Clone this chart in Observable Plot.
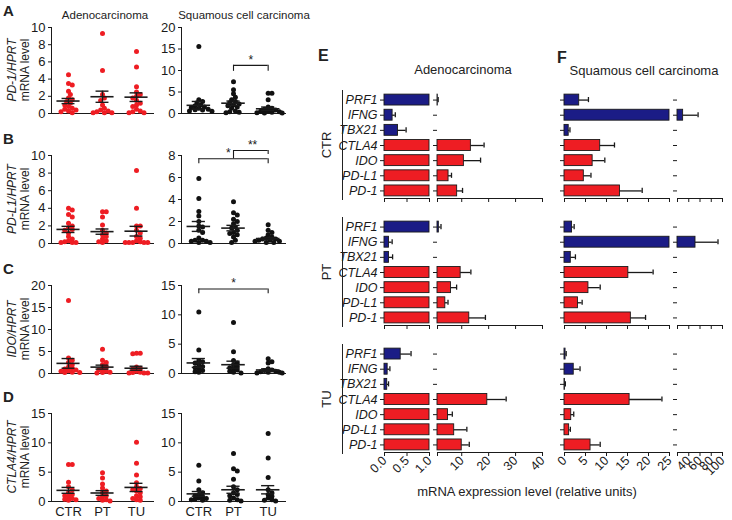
<!DOCTYPE html>
<html><head><meta charset="utf-8">
<script src="https://cdn.jsdelivr.net/npm/d3@7"></script>
<script src="https://cdn.jsdelivr.net/npm/@observablehq/plot@0.6"></script>
<style>
body{margin:0;background:#fff;}
#fig{position:relative;width:732px;height:520px;overflow:hidden;font-family:"Liberation Sans",Arial,Helvetica,sans-serif;color:#222;}
.lbl{position:absolute;white-space:nowrap;line-height:1.1;text-align:center;}
.vline{position:absolute;width:1px;background:#222;}
</style></head><body><div id="fig"></div>
<script>
// ---------------- DATA ----------------
const categories = ["CTR", "PT", "TU"];

// A: PD-1/HPRT
const pd1AdenoCTR = [4.5, 3.5, 3.3, 2.6, 2.2, 1.8, 1.6, 1.4, 1.2, 1.0, 0.8, 0.6, 0.5, 0.4, 0.3, 0.2, 0.1];
const pd1AdenoPT  = [9.3, 5.0, 2.2, 1.8, 1.5, 1.0, 0.6, 0.4, 0.3, 0.2, 0.1, 0.1, 0.1];
const pd1AdenoTU  = [7.2, 5.4, 3.1, 2.5, 2.2, 2.0, 1.8, 1.5, 1.2, 1.0, 0.8, 0.5, 0.3, 0.2, 0.1, 0.1];
const pd1AdenoMean = [1.45, 1.95, 1.9];
const pd1AdenoSem  = [0.3, 0.65, 0.5];
const pd1SquamCTR = [15.6, 3.2, 2.8, 2.5, 2.0, 1.8, 1.5, 1.4, 1.2, 1.0, 0.9, 0.8, 0.6, 0.5];
const pd1SquamPT  = [7.4, 5.5, 4.6, 3.8, 3.2, 2.8, 2.5, 2.2, 2.0, 1.8, 1.5, 1.2, 0.6, 0.4, 0.3, 0.2];
const pd1SquamTU  = [4.7, 4.7, 3.2, 1.5, 1.2, 1.0, 0.8, 0.6, 0.5, 0.4, 0.3, 0.2, 0.1, 0.1];
const pd1SquamMean = [1.9, 2.4, 1.1];
const pd1SquamSem  = [0.9, 0.5, 0.4];

// B: PD-L1/HPRT
const pdl1AdenoCTR = [4.0, 3.8, 3.3, 3.0, 2.3, 2.0, 1.8, 1.6, 1.5, 1.2, 0.8, 0.5, 0.3, 0.2, 0.1, 0.1, 0.1];
const pdl1AdenoPT  = [3.6, 3.6, 3.0, 2.1, 1.5, 1.2, 1.0, 0.8, 0.5, 0.3, 0.2, 0.1];
const pdl1AdenoTU  = [8.3, 4.0, 2.0, 2.0, 1.5, 1.2, 0.8, 0.6, 0.3, 0.2, 0.1, 0.1, 0.1, 0.1, 0.1];
const pdl1AdenoMean = [1.6, 1.35, 1.4];
const pdl1AdenoSem  = [0.35, 0.3, 0.55];
const pdl1SquamCTR = [5.9, 4.1, 2.9, 2.5, 2.0, 1.6, 1.5, 1.2, 1.0, 0.5, 0.3, 0.3, 0.2, 0.2, 0.1, 0.1];
const pdl1SquamPT  = [3.8, 2.8, 2.6, 2.2, 2.0, 1.8, 1.5, 1.4, 1.2, 1.0, 0.9, 0.8, 0.6, 0.3, 0.1];
const pdl1SquamTU  = [1.7, 1.2, 1.0, 0.8, 0.6, 0.5, 0.4, 0.4, 0.3, 0.3, 0.2, 0.2, 0.1, 0.1];
const pdl1SquamMean = [1.55, 1.4, 0.45];
const pdl1SquamSem  = [0.45, 0.25, 0.1];

// C: IDO/HPRT
const idoAdenoCTR = [16.6, 3.5, 3.0, 2.5, 2.0, 1.5, 1.2, 1.0, 0.8, 0.6, 0.5, 0.3, 0.2, 0.2];
const idoAdenoPT  = [5.5, 3.0, 2.5, 2.0, 1.5, 1.0, 0.8, 0.5, 0.3, 0.2, 0.1];
const idoAdenoTU  = [4.6, 4.6, 4.5, 1.5, 1.2, 1.0, 0.5, 0.3, 0.2, 0.1, 0.1, 0.1];
const idoAdenoMean = [2.3, 1.45, 1.2];
const idoAdenoSem  = [1.1, 0.45, 0.45];
const idoSquamCTR = [10.5, 4.0, 2.2, 2.0, 1.8, 1.5, 1.2, 1.0, 0.8, 0.5, 0.3, 0.2];
const idoSquamPT  = [8.7, 3.7, 2.2, 1.8, 1.5, 1.2, 1.0, 0.8, 0.6, 0.4, 0.2, 0.1];
const idoSquamTU  = [2.5, 2.0, 1.8, 0.8, 0.6, 0.5, 0.4, 0.3, 0.2, 0.2, 0.1, 0.1];
const idoSquamMean = [1.8, 1.5, 0.6];
const idoSquamSem  = [0.75, 0.6, 0.2];

// D: CTLA4/HPRT
const ctla4AdenoCTR = [6.3, 6.3, 3.3, 2.5, 2.0, 1.5, 1.2, 1.0, 0.8, 0.5, 0.4, 0.3, 0.2];
const ctla4AdenoPT  = [4.9, 4.0, 3.0, 2.3, 1.8, 1.5, 1.0, 0.8, 0.5, 0.3, 0.2, 0.1];
const ctla4AdenoTU  = [10.1, 6.5, 4.5, 3.2, 2.5, 2.2, 2.0, 1.8, 1.5, 1.0, 0.8, 0.5, 0.3, 0.2];
const ctla4AdenoMean = [1.9, 1.45, 2.4];
const ctla4AdenoSem  = [0.5, 0.4, 0.7];
const ctla4SquamCTR = [6.2, 3.5, 2.0, 1.5, 1.2, 1.0, 0.8, 0.6, 0.5, 0.4, 0.3, 0.2];
const ctla4SquamPT  = [8.2, 5.6, 5.2, 3.8, 2.5, 2.0, 1.5, 1.2, 1.0, 0.6, 0.3, 0.2, 0.1];
const ctla4SquamTU  = [11.6, 7.4, 4.1, 2.0, 1.5, 1.2, 0.9, 0.6, 0.3, 0.2, 0.1];
const ctla4SquamMean = [1.3, 2.0, 2.0];
const ctla4SquamSem  = [0.4, 0.6, 0.7];

// significance brackets (y in data units)
const sigA = [{from: "PT", to: "TU", y: 11.2, leg1: 9.8, leg2: 9.8, lx: 2.5, ly: 11.6, label: "*"}];
const sigB = [
  {from: "CTR", to: "TU", y: 7.7, leg1: 7.25, leg2: 7.25, lx: 1.85, ly: 7.85, label: "*"},
  {from: "PT", to: "TU", y: 8.45, leg1: 7.7, leg2: 8.1, lx: 2.55, ly: 8.6, label: "**"}
];
const sigC = [{from: "CTR", to: "TU", y: 14.4, leg1: 13.6, leg2: 13.6, lx: 2, ly: 14.7, label: "*"}];

// E / F bar charts
const genes = ["PRF1", "IFNG", "TBX21", "CTLA4", "IDO", "PD-L1", "PD-1"];
const blueGenes = ["PRF1", "IFNG", "TBX21"];
const adenoCTR    = [1.1, 0.18, 0.3, 13.4, 10.8, 5.1, 8.3];
const adenoCTRerr = [0.15, 0.06, 0.18, 4.9, 6.2, 1.1, 2.0];
const adenoPT     = [1.5, 0.1, 0.1, 9.6, 6.0, 3.9, 12.8];
const adenoPTerr  = [0.8, 0.07, 0.08, 3.8, 2.1, 1.0, 6.0];
const adenoTU     = [0.36, 0.07, 0.06, 19.5, 4.9, 7.2, 10.0];
const adenoTUerr  = [0.23, 0.05, 0.03, 7.0, 1.6, 4.7, 2.8];
const squamCTR    = [3.5, 30, 1.0, 8.5, 6.7, 4.6, 13.2];
const squamCTRerr = [2.2, 26.6, 0.3, 3.4, 2.9, 1.7, 5.3];
const squamPT     = [1.8, 52, 1.5, 15.2, 5.7, 3.2, 15.8];
const squamPTerr  = [0.5, 40, 1.1, 5.9, 2.8, 1.0, 3.5];
const squamTU     = [0.25, 2.2, 0.1, 15.5, 1.6, 1.1, 6.2];
const squamTUerr  = [0.15, 1.5, 0.1, 7.7, 0.6, 0.3, 2.3];

const adenoSeg1Ticks = [0, 0.5, 1];
const adenoSeg2Ticks = [1, 10, 20, 30, 40];
const squamSeg1Ticks = [0, 5, 10, 15, 20, 25];
const squamSeg2Ticks = [20, 40, 60, 80, 100];

// ---------------- DRAWING ----------------
const fig = document.getElementById("fig");
const FONT = '"Liberation Sans", Arial, Helvetica, sans-serif';
const RED = "#ee1d23", BLUE = "#1b1c86", INK = "#1a1a1a";

function place(el, left, top) {
  el.style.position = "absolute";
  el.style.left = left + "px";
  el.style.top = top + "px";
  fig.append(el);
}
function text(html, x, y, {size = 12, weight = "normal", italic = false, rotate = 0, anchor = "middle"} = {}) {
  const d = document.createElement("div");
  d.className = "lbl";
  d.innerHTML = html;
  d.style.left = x + "px"; d.style.top = y + "px";
  d.style.fontSize = size + "px"; d.style.fontWeight = weight;
  if (italic) d.style.fontStyle = "italic";
  const tx = anchor === "middle" ? "-50%" : anchor === "end" ? "-100%" : "0";
  d.style.transform = `translate(${tx},-50%) rotate(${rotate}deg)`;
  fig.append(d);
}
function vline(x, y1, y2) {
  const d = document.createElement("div");
  d.className = "vline";
  d.style.left = x + "px"; d.style.top = y1 + "px"; d.style.height = (y2 - y1) + "px";
  fig.append(d);
}

// deterministic beeswarm offsets (in x-scale units)
function swarm(vals, pxPerY, pxPerX, r) {
  const order = vals.map((v, i) => i).sort((a, b) => vals[b] - vals[a]);
  const placed = [], off = new Array(vals.length);
  const minD = 2 * r * 0.7, step = r * 0.75;
  for (const i of order) {
    const y = vals[i] * pxPerY;
    let cx = 0;
    for (let k = 0; k < 60; k++) {
      const c = k === 0 ? 0 : (k % 2 ? 1 : -1) * Math.ceil(k / 2) * step;
      if (placed.every(p => Math.hypot(p.x - c, p.y - y) >= minD)) { cx = c; break; }
    }
    placed.push({x: cx, y});
    off[i] = Math.max(-14, Math.min(14, cx)) / pxPerX;
  }
  return off;
}

function scatter({left, frameTop, frameH, yMax, yTicks, groups, mean, sem, color, showX, sig = []}) {
  const mL = 51, mR = left === 0 ? 7 : 3, width = left === 0 ? 160 : 158;
  const mT = Math.min(30, frameTop), mB = 24;
  const r = 2.5;
  const pxPerX = (width - mL - mR) / 3, pxPerY = frameH / yMax;
  const pts = [];
  groups.forEach((vals, k) => {
    const off = swarm(vals, pxPerY, pxPerX, r);
    vals.forEach((v, i) => pts.push({k: k + 1, v, x: k + 1 + off[i]}));
  });
  const stats = mean.map((m, k) => ({k: k + 1, m, s: sem[k]}));
  const sg = sig.map(s => ({...s, x1: categories.indexOf(s.from) + 1, x2: categories.indexOf(s.to) + 1}));
  const p = Plot.plot({
    width, height: frameH + mT + mB,
    marginLeft: mL, marginRight: mR, marginTop: mT, marginBottom: mB,
    style: {fontFamily: FONT, fontSize: "13px", color: INK, background: "transparent", overflow: "visible"},
    x: {domain: [0.5, 3.5], ticks: [1, 2, 3], tickFormat: d => showX ? categories[d - 1] : "", tickSize: 0, tickPadding: 5, line: true, label: null},
    y: {domain: [0, yMax], ticks: yTicks, tickSize: 3, tickPadding: 3, line: true, label: null},
    marks: [
      Plot.dot(pts, {x: "x", y: "v", r, fill: color, stroke: "none"}),
      Plot.ruleY(stats, {y: "m", x1: d => d.k - 0.34, x2: d => d.k + 0.34, stroke: INK, strokeWidth: 1.6}),
      Plot.ruleX(stats, {x: "k", y1: d => d.m - d.s, y2: d => d.m + d.s, stroke: INK, strokeWidth: 1.4}),
      Plot.ruleY(stats, {y: d => d.m + d.s, x1: d => d.k - 0.19, x2: d => d.k + 0.19, stroke: INK, strokeWidth: 1.4}),
      Plot.ruleY(stats, {y: d => d.m - d.s, x1: d => d.k - 0.19, x2: d => d.k + 0.19, stroke: INK, strokeWidth: 1.4}),
      Plot.ruleY(sg, {y: "y", x1: "x1", x2: "x2", stroke: INK, strokeWidth: 1.1}),
      Plot.ruleX(sg, {x: "x1", y1: "leg1", y2: "y", stroke: INK, strokeWidth: 1.1}),
      Plot.ruleX(sg, {x: "x2", y1: "leg2", y2: "y", stroke: INK, strokeWidth: 1.1}),
      Plot.text(sg, {x: "lx", y: "ly", text: "label", fontSize: 12, fill: INK, lineAnchor: "bottom"})
    ]
  });
  place(p, left, frameTop - mT);
}

const rows = [
  {frameTop: 27, frameH: 86, name: "PD-1/HPRT", letter: "A",
   L: {yMax: 10, yTicks: [0, 2, 4, 6, 8, 10], g: [pd1AdenoCTR, pd1AdenoPT, pd1AdenoTU], m: pd1AdenoMean, s: pd1AdenoSem},
   R: {yMax: 20, yTicks: [0, 5, 10, 15, 20], g: [pd1SquamCTR, pd1SquamPT, pd1SquamTU], m: pd1SquamMean, s: pd1SquamSem, sig: sigA}},
  {frameTop: 155, frameH: 88, name: "PD-L1/HPRT", letter: "B",
   L: {yMax: 10, yTicks: [0, 2, 4, 6, 8, 10], g: [pdl1AdenoCTR, pdl1AdenoPT, pdl1AdenoTU], m: pdl1AdenoMean, s: pdl1AdenoSem},
   R: {yMax: 8, yTicks: [0, 2, 4, 6, 8], g: [pdl1SquamCTR, pdl1SquamPT, pdl1SquamTU], m: pdl1SquamMean, s: pdl1SquamSem, sig: sigB}},
  {frameTop: 285, frameH: 88, name: "IDO/HPRT", letter: "C",
   L: {yMax: 20, yTicks: [0, 5, 10, 15, 20], g: [idoAdenoCTR, idoAdenoPT, idoAdenoTU], m: idoAdenoMean, s: idoAdenoSem},
   R: {yMax: 15, yTicks: [0, 5, 10, 15], g: [idoSquamCTR, idoSquamPT, idoSquamTU], m: idoSquamMean, s: idoSquamSem, sig: sigC}},
  {frameTop: 413, frameH: 88, name: "CTLA4/HPRT", letter: "D",
   L: {yMax: 15, yTicks: [0, 5, 10, 15], g: [ctla4AdenoCTR, ctla4AdenoPT, ctla4AdenoTU], m: ctla4AdenoMean, s: ctla4AdenoSem},
   R: {yMax: 15, yTicks: [0, 5, 10, 15], g: [ctla4SquamCTR, ctla4SquamPT, ctla4SquamTU], m: ctla4SquamMean, s: ctla4SquamSem}}
];
rows.forEach((row, ri) => {
  const showX = ri === rows.length - 1;
  scatter({left: 0, frameTop: row.frameTop, frameH: row.frameH, yMax: row.L.yMax, yTicks: row.L.yTicks,
           groups: row.L.g, mean: row.L.m, sem: row.L.s, color: RED, showX});
  scatter({left: 130, frameTop: row.frameTop, frameH: row.frameH, yMax: row.R.yMax, yTicks: row.R.yTicks,
           groups: row.R.g, mean: row.R.m, sem: row.R.s, color: "#111", showX, sig: row.R.sig || []});
  text(`<i>${row.name}</i><br>mRNA level`, 19, row.frameTop + row.frameH / 2, {size: 12, rotate: -90});
  text(row.letter, 3, row.frameTop - 16, {size: 15, weight: "bold", anchor: "start"});
});
text("Adenocarcinoma", 105, 15, {size: 11.5});
text("Squamous cell carcinoma", 244, 15, {size: 11.5});

// ---------- bar blocks (E, F) ----------
function barBlock({left, frameLeft, frameRight, top, h, domain, ticks, tickFmt, vals, errs, geneLabels, xLabels, seg}) {
  const mT = 4, mB = xLabels ? 40 : 6;
  const width = frameRight - left + 10;
  const lo = domain[0], hi = domain[1];
  const data = genes.map((g, i) => ({i, g, v: vals[i], e: errs[i], c: blueGenes.includes(g) ? BLUE : RED}));
  const barData = seg === 1 ? data : data.filter(d => d.v > lo);
  const errData = seg === 1 ? data.filter(d => d.v < hi) : data.filter(d => d.v > lo);
  const p = Plot.plot({
    width, height: h + mT + mB,
    marginLeft: frameLeft - left, marginRight: width - (frameRight - left), marginTop: mT, marginBottom: mB,
    style: {fontFamily: FONT, fontSize: "12.5px", color: INK, background: "transparent", overflow: "visible"},
    x: {domain, ticks, tickFormat: xLabels ? tickFmt : () => "", tickSize: 4, tickPadding: 2, tickRotate: xLabels ? -45 : 0, line: true, label: null},
    y: {domain: [6.5, -0.5], ticks: [0, 1, 2, 3, 4, 5, 6], tickSize: 4, tickPadding: 3, tickFormat: i => geneLabels ? genes[i] : "", label: null},
    marks: [
      Plot.rectX(barData, {y1: d => d.i - 0.36, y2: d => d.i + 0.36, x1: () => lo, x2: d => Math.min(d.v, hi), fill: "c", stroke: INK, strokeWidth: 0.9}),
      Plot.ruleY(errData, {y: "i", x1: "v", x2: d => Math.min(d.v + d.e, hi), stroke: INK, strokeWidth: 1.3}),
      Plot.ruleX(errData.filter(d => d.v + d.e <= hi), {x: d => d.v + d.e, y1: d => d.i - 0.17, y2: d => d.i + 0.17, stroke: INK, strokeWidth: 1.3})
    ]
  });
  if (geneLabels) {
    p.querySelectorAll('[aria-label="y-axis tick label"] text').forEach(t => { t.style.fontStyle = "italic"; t.style.fontSize = "12.5px"; });
  }
  place(p, left, top - mT);
}

const blockTops = [91.5, 218.5, 345.5];
const blockH = 106;
const adenoVals = [[adenoCTR, adenoCTRerr], [adenoPT, adenoPTerr], [adenoTU, adenoTUerr]];
const squamVals = [[squamCTR, squamCTRerr], [squamPT, squamPTerr], [squamTU, squamTUerr]];
const fmt1 = d => d.toFixed(1);
blockTops.forEach((top, bi) => {
  const xl = bi === 2;
  barBlock({left: 326, frameLeft: 384, frameRight: 429, top, h: blockH, domain: [0, 1], ticks: adenoSeg1Ticks, tickFmt: fmt1,
            vals: adenoVals[bi][0], errs: adenoVals[bi][1], geneLabels: true, xLabels: xl, seg: 1});
  barBlock({left: 432, frameLeft: 437, frameRight: 542, top, h: blockH, domain: [1, 40], ticks: adenoSeg2Ticks, tickFmt: d => d === 1 ? "" : d,
            vals: adenoVals[bi][0], errs: adenoVals[bi][1], geneLabels: false, xLabels: xl, seg: 2});
  barBlock({left: 548, frameLeft: 564, frameRight: 669, top, h: blockH, domain: [0, 25], ticks: squamSeg1Ticks, tickFmt: d => d,
            vals: squamVals[bi][0], errs: squamVals[bi][1], geneLabels: false, xLabels: xl, seg: 1});
  barBlock({left: 672, frameLeft: 677, frameRight: 722, top, h: blockH, domain: [20, 100], ticks: squamSeg2Ticks, tickFmt: d => d === 20 ? "" : d,
            vals: squamVals[bi][0], errs: squamVals[bi][1], geneLabels: false, xLabels: xl, seg: 2});
  vline(342, top - 2, top + blockH + 2);
  text(categories[bi], 327, top + blockH / 2, {size: 13, rotate: -90});
});
text("E", 318, 56, {size: 16, weight: "bold", anchor: "start"});
text("F", 557, 58, {size: 16, weight: "bold", anchor: "start"});
text("Adenocarcinoma", 463, 70, {size: 13});
text("Squamous cell carcinoma", 644, 71, {size: 13});
text("mRNA expression level (relative units)", 527, 492, {size: 13});
</script></body></html>
